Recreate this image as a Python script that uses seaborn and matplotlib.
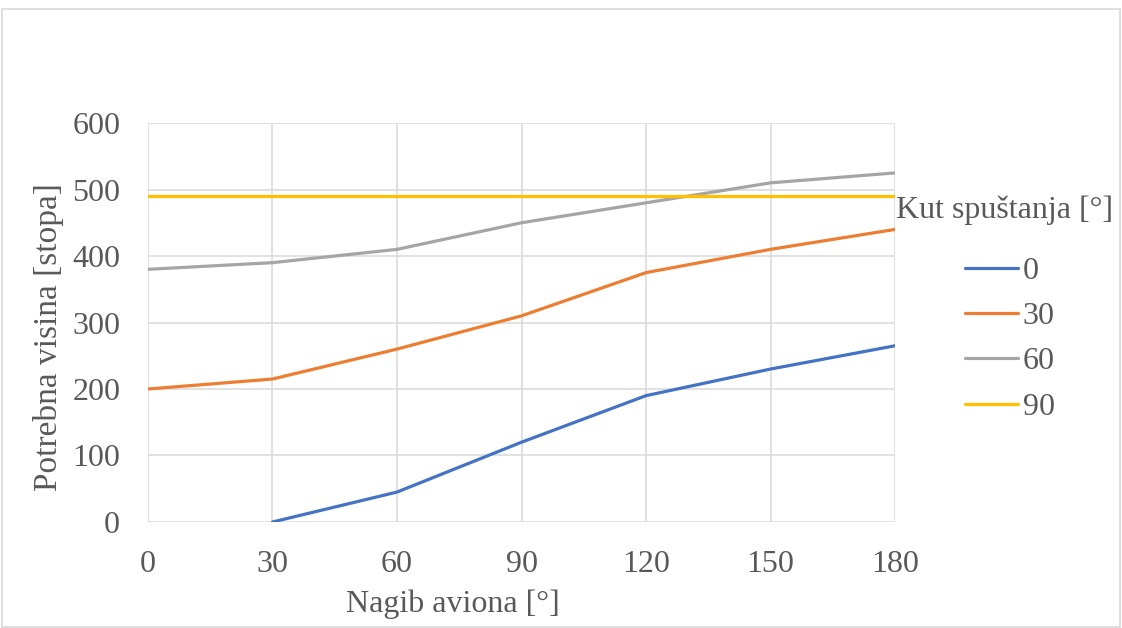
import numpy as np
import pandas as pd
import seaborn as sns
import matplotlib.pyplot as plt
from matplotlib.patches import Rectangle

# data
nagib = [0, 30, 60, 90, 120, 150, 180]
kut_0 = [np.nan, 0, 45, 120, 190, 230, 265]
kut_30 = [200, 215, 260, 310, 375, 410, 440]
kut_60 = [380, 390, 410, 450, 480, 510, 525]
kut_90 = [490, 490, 490, 490, 490, 490, 490]
serije = ["0", "30", "60", "90"]

df = pd.DataFrame({
    "nagib": nagib * 4,
    "visina": kut_0 + kut_30 + kut_60 + kut_90,
    "kut": [s for s in serije for _ in nagib],
}).dropna()

boje = ["#4472C4", "#ED7D31", "#A5A5A5", "#FFC000"]
tekst = "#595959"

sns.set_theme(style="white")
plt.rcParams["font.family"] = ["Liberation Serif", "DejaVu Serif"]
plt.rcParams["text.color"] = tekst
plt.rcParams["axes.labelcolor"] = tekst
plt.rcParams["xtick.color"] = tekst
plt.rcParams["ytick.color"] = tekst

fig = plt.figure(figsize=(11.22, 6.28), dpi=100)
ax = fig.add_axes([0.1319, 0.1688, 0.6658, 0.6353])

sns.lineplot(data=df, x="nagib", y="visina", hue="kut", hue_order=serije,
             palette=boje, linewidth=2.3, ax=ax)

ax.set_xlim(0, 180)
ax.set_ylim(0, 600)
ax.set_xticks(range(0, 181, 30))
ax.set_yticks(range(0, 601, 100))
ax.grid(True, color="#D9D9D9", linewidth=1.1)
ax.set_axisbelow(True)
for s in ax.spines.values():
    s.set_visible(False)
ax.tick_params(axis="both", labelsize=23, length=0)
ax.tick_params(axis="y", pad=20)
ax.tick_params(axis="x", pad=20)

ax.set_xlabel("Nagib aviona [°]", fontsize=23)
ax.set_ylabel("Potrebna visina [stopa]", fontsize=24)
ax.xaxis.set_label_coords(0.408, -0.168)
ax.yaxis.set_label_coords(-0.112, 0.464)

# legend entries, title placed separately for the larger gap
ax.legend(loc="center left", bbox_to_anchor=(1.0937, 0.4586),
          frameon=False, fontsize=23, handlelength=1.65,
          handletextpad=0.15, labelspacing=0.5, borderpad=0, borderaxespad=0)
fig.text(0.8957, 1 - 210 / 628, "Kut spuštanja [°]", fontsize=23,
         ha="center", va="center", color=tekst)

fig.patches.append(Rectangle((0.002, 0.002), 0.996, 0.984, transform=fig.transFigure,
                             fill=False, edgecolor="#D9D9D9", linewidth=1.2))

fig.savefig("out.png", dpi=100)
